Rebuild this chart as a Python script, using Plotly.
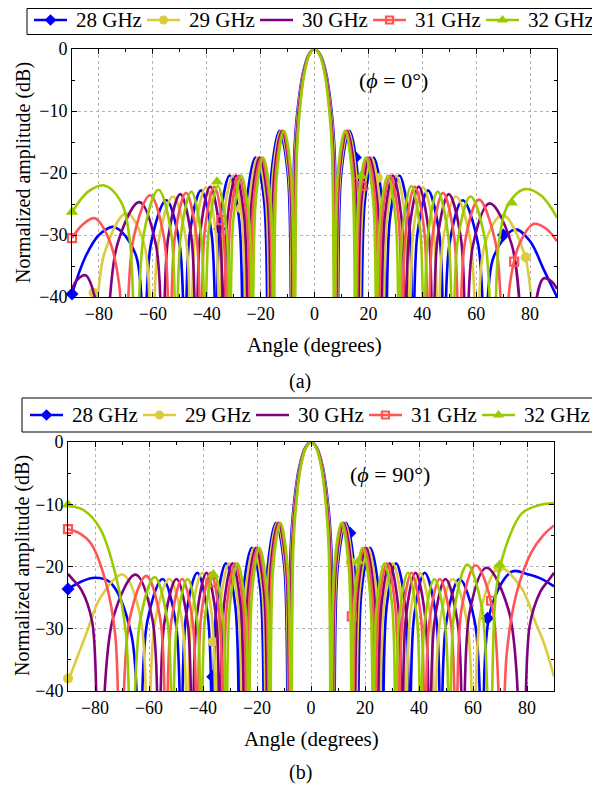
import plotly.graph_objects as go

FREQS = ["28 GHz", "29 GHz", "30 GHz", "31 GHz", "32 GHz"]

# ---------------- angles (degrees) per frequency ----------------
ANG_28 = [-90, -85, -80, -74.5, -66.5, -63.5, -60.7, -55.0, -50.1, -48.1, -46.3, -42.1, -38.2, -36.5, -35.0,
          -31.5, -28.0, -26.5, -25.1, -21.9, -18.7, -17.3, -16.0, -12.95, -9.9, -8.6, -7.5, -6.45, -4.3, -2.15,
          0,
          2.15, 4.3, 6.45, 7.5, 8.6, 9.9, 12.95, 16.0, 17.3, 18.7, 21.9, 25.1, 26.5, 28.0, 31.5, 35.0, 36.5,
          38.2, 42.1, 46.3, 48.1, 50.1, 55.0, 60.7, 63.5, 66.5, 74.5, 80, 85, 90]
ANG_29 = [-90, -86.5, -83, -78, -69.8, -63.2, -60.5, -57.8, -52.5, -47.7, -45.9, -44.2, -40.3, -36.7, -35.1,
          -33.7, -30.3, -26.9, -25.5, -24.2, -21.1, -18.0, -16.7, -15.44, -12.5, -9.56, -8.3, -7.26, -6.23,
          -4.15, -2.08,
          0,
          2.08, 4.15, 6.23, 7.26, 8.3, 9.56, 12.5, 15.44, 16.7, 18.0, 21.1, 24.2, 25.5, 26.9, 30.3, 33.7, 35.1,
          36.7, 40.3, 44.2, 45.9, 47.7, 52.5, 57.8, 60.5, 63.2, 69.8, 78, 83, 86.5, 90]
ANG_30 = [-90, -88, -85, -81, -78.5, -73.3, -65.0, -58.8, -56.4, -54.3, -49.8, -45.7, -44.0, -42.3, -38.7,
          -35.2, -33.7, -32.3, -29.1, -26.0, -24.6, -23.3, -20.35, -17.4, -16.1, -14.9, -12.05, -9.2, -8, -7,
          -6, -4, -2,
          0,
          2, 4, 6, 7, 8, 9.2, 12.05, 14.9, 16.1, 17.4, 20.35, 23.3, 24.6, 26.0, 29.1, 32.3, 33.7, 35.2, 38.7,
          42.3, 44.0, 45.7, 49.8, 54.3, 56.4, 58.8, 65.0, 73.3, 78.5, 81, 85, 88, 90]
ANG_31 = [-90, -86, -81.5, -76, -72.5, -70.5, -67.2, -61.0, -55.8, -53.8, -51.8, -47.7, -43.8, -42.2, -40.7,
          -37.2, -33.9, -32.5, -31.2, -28.1, -25.1, -23.8, -22.6, -19.7, -16.8, -15.6, -14.4, -11.65, -8.9,
          -7.7, -6.74, -5.78, -3.85, -1.93,
          0,
          1.93, 3.85, 5.78, 6.74, 7.7, 8.9, 11.65, 14.4, 15.6, 16.8, 19.7, 22.6, 23.8, 25.1, 28.1, 31.2, 32.5,
          33.9, 37.2, 40.7, 42.2, 43.8, 47.7, 51.8, 53.8, 55.8, 61.0, 67.2, 70.5, 72.5, 76, 81.5, 86, 90]
ANG_32 = [-90, -84, -78, -72, -68.5, -66.3, -63.3, -57.9, -53.2, -51.4, -49.6, -45.7, -42.1, -40.6, -39.2,
          -35.9, -32.7, -31.4, -30.1, -27.2, -24.3, -23.0, -21.8, -19.05, -16.3, -15.1, -13.96, -11.3, -8.64,
          -7.5, -6.55, -5.6, -3.75, -1.87,
          0,
          1.87, 3.75, 5.6, 6.55, 7.5, 8.64, 11.3, 13.96, 15.1, 16.3, 19.05, 21.8, 23.0, 24.3, 27.2, 30.1, 31.4,
          32.7, 35.9, 39.2, 40.6, 42.1, 45.7, 49.6, 51.4, 53.2, 57.9, 63.3, 66.3, 68.5, 72, 78, 84, 90]

# ---------------- panel (a): phi = 0 deg, normalized amplitude (dB) ----------------
A_28 = [-39.5, -33.5, -30, -28.7, -33, -55, -31.4, -24.4, -31.4, -55, -29.8, -22.8, -29.8, -55, -27.4,
        -20.4, -27.4, -55, -24.5, -17.5, -24.5, -55, -20.2, -13.2, -20.2, -55, -17, -10.5, -3.9, -0.9,
        0,
        -0.9, -3.9, -10.5, -17, -55, -20.2, -13.2, -20.2, -55, -24.5, -17.5, -24.5, -55, -27.4, -20.4,
        -27.4, -55, -29.8, -22.8, -29.8, -55, -31.4, -24.4, -31.4, -55, -33.5, -29.1, -31, -35.5, -40]
A_29 = [-47, -44, -50, -33, -26.5, -31.5, -55, -30.8, -23.8, -30.8, -55, -29.3, -22.3, -29.3, -55, -27.4,
        -20.4, -27.4, -55, -24.5, -17.5, -24.5, -55, -20.2, -13.2, -20.2, -55, -17, -10.5, -3.9, -0.9,
        0,
        -0.9, -3.9, -10.5, -17, -55, -20.2, -13.2, -20.2, -55, -24.5, -17.5, -24.5, -55, -27.4, -20.4,
        -27.4, -55, -29.3, -22.3, -29.3, -55, -30.8, -23.8, -30.8, -55, -31.5, -26.8, -33.2, -50, -44, -47]
A_30 = [-38.7, -37.2, -36.5, -41, -55, -31.7, -24.7, -31.7, -55, -30.4, -23.4, -30.4, -55, -29.2, -22.2,
        -29.2, -55, -27.4, -20.4, -27.4, -55, -24.5, -17.5, -24.5, -55, -20.2, -13.2, -20.2, -55, -17, -10.5,
        -3.9, -0.9,
        0,
        -0.9, -3.9, -10.5, -17, -55, -20.2, -13.2, -20.2, -55, -24.5, -17.5, -24.5, -55, -27.4, -20.4,
        -27.4, -55, -29.2, -22.2, -29.2, -55, -30.4, -23.4, -30.4, -55, -31.7, -24.9, -31.7, -55, -44, -37,
        -37.5, -38.7]
A_31 = [-30.5, -28.3, -27.3, -31, -38, -55, -30.6, -23.6, -30.6, -55, -30.2, -23.2, -30.2, -55, -29.2,
        -22.2, -29.2, -55, -27.4, -20.4, -27.4, -55, -24.5, -17.5, -24.5, -55, -20.2, -13.2, -20.2, -55,
        -17, -10.5, -3.9, -0.9,
        0,
        -0.9, -3.9, -10.5, -17, -55, -20.2, -13.2, -20.2, -55, -24.5, -17.5, -24.5, -55, -27.4, -20.4,
        -27.4, -55, -29.2, -22.2, -29.2, -55, -30.2, -23.2, -30.2, -55, -31.3, -24.3, -31.3, -55, -38,
        -31.5, -28.2, -29, -31]
A_32 = [-26.3, -23, -22, -24.5, -31, -55, -29.7, -22.7, -29.7, -55, -30, -23.0, -30, -55, -29.1, -22.1,
        -29.1, -55, -27.4, -20.4, -27.4, -55, -24.5, -17.5, -24.5, -55, -20.2, -13.2, -20.2, -55, -17,
        -10.5, -3.9, -0.9,
        0,
        -0.9, -3.9, -10.5, -17, -55, -20.2, -13.2, -20.2, -55, -24.5, -17.5, -24.5, -55, -27.4, -20.4,
        -27.4, -55, -29.1, -22.1, -29.1, -55, -30, -23.0, -30, -55, -30.8, -23.8, -30.8, -55, -31, -25,
        -22.6, -23.6, -27.2]

# ---------------- panel (b): phi = 90 deg ----------------
B_28 = [-23.6, -22.4, -21.8, -22.5, -31, -55, -29, -22.0, -29, -55, -28, -21.0, -28, -55, -26.5, -19.5,
        -26.5, -55, -24, -17.0, -24, -55, -20, -13.0, -20, -55, -17, -10.5, -3.9, -0.9,
        0,
        -0.9, -3.9, -10.5, -17, -55, -20, -13.0, -20, -55, -24, -17.0, -24, -55, -26.5, -19.5, -26.5,
        -55, -28, -21.0, -28, -55, -29, -22.0, -29, -55, -27, -20.8, -21.2, -21.9, -23.2]
B_29 = [-38.5, -34.5, -30.5, -25, -21.3, -28, -55, -29, -22.0, -29, -55, -28, -21.0, -28, -55, -26.5,
        -19.5, -26.5, -55, -24, -17.0, -24, -55, -20, -13.0, -20, -55, -17, -10.5, -3.9, -0.9,
        0,
        -0.9, -3.9, -10.5, -17, -55, -20, -13.0, -20, -55, -24, -17.0, -24, -55, -26.5, -19.5, -26.5,
        -55, -28, -21.0, -28, -55, -29, -22.0, -29, -55, -26.5, -20.2, -23.5, -28.8, -32.6, -37.7]
B_30 = [-21.2, -22.2, -23.8, -29, -55, -28.3, -21.3, -28.3, -55, -29, -22.0, -29, -55, -28, -21.0, -28,
        -55, -26.5, -19.5, -26.5, -55, -24, -17.0, -24, -55, -20, -13.0, -20, -55, -17, -10.5, -3.9, -0.9,
        0,
        -0.9, -3.9, -10.5, -17, -55, -20, -13.0, -20, -55, -24, -17.0, -24, -55, -26.5, -19.5, -26.5,
        -55, -28, -21.0, -28, -55, -29, -22.0, -29, -55, -27.2, -20.2, -27.2, -55, -29.5, -24, -22.2, -21]
B_31 = [-14, -14.6, -16.3, -22.5, -31, -55, -28.5, -21.5, -28.5, -55, -29, -22.0, -29, -55, -28, -21.0,
        -28, -55, -26.5, -19.5, -26.5, -55, -24, -17.0, -24, -55, -20, -13.0, -20, -55, -17, -10.5, -3.9,
        -0.9,
        0,
        -0.9, -3.9, -10.5, -17, -55, -20, -13.0, -20, -55, -24, -17.0, -24, -55, -26.5, -19.5, -26.5,
        -55, -28, -21.0, -28, -55, -29, -22.0, -29, -55, -26.7, -19.8, -26.7, -55, -34, -24.5, -17.8,
        -15, -13.4]
B_32 = [-10.2, -11, -14, -22, -31, -55, -28.7, -21.7, -28.7, -55, -29, -22.0, -29, -55, -28, -21.0, -28,
        -55, -26.5, -19.5, -26.5, -55, -24, -17.0, -24, -55, -20, -13.0, -20, -55, -17, -10.5, -3.9, -0.9,
        0,
        -0.9, -3.9, -10.5, -17, -55, -20, -13.0, -20, -55, -24, -17.0, -24, -55, -26.5, -19.5, -26.5,
        -55, -28, -21.0, -28, -55, -29, -22.0, -29, -55, -26.7, -19.7, -26.7, -55, -24, -17, -11.5, -10.2,
        -9.8]

# ---------------- marker positions (every n-th sample in the original) ----------------
MK_A_X = {"28 GHz": [-90, -35.2, 15.2, 70.1], "29 GHz": [-82, -27.3, 23.5, 78.4],
          "31 GHz": [-90, -34.6, 17.5, 74.1], "32 GHz": [-90, -36.2, 17.3, 73.2]}
MK_A_Y = {"28 GHz": [-39.5, -29.0, -17.5, -30.0], "29 GHz": [-39.3, -25.7, -20.8, -33.6],
          "31 GHz": [-30.5, -27.6, -22.1, -34.3], "32 GHz": [-26.3, -21.4, -20.5, -24.8]}
MK_B_X = {"28 GHz": [-90, -36.4, 14.4, 65.4], "29 GHz": [-90, -36.4, 14.7, 69.4],
          "31 GHz": [-90, -36.4, 15.1, 66.7], "32 GHz": [-90, -36.2, 17.5, 69.9]}
MK_B_Y = {"28 GHz": [-23.6, -37.7, -14.6, -28.3], "29 GHz": [-38.0, -32.1, -19.3, -20.2],
          "31 GHz": [-14.0, -22.5, -28.0, -25.5], "32 GHz": [-10.1, -21.3, -19.2, -19.7]}

X_TICKS = [-80, -60, -40, -20, 0, 20, 40, 60, 80]
X_TICKTEXT = ["\u221280", "\u221260", "\u221240", "\u221220", "0", "20", "40", "60", "80"]
Y_TICKS = [-40, -30, -20, -10, 0]
Y_TICKTEXT = ["\u221240", "\u221230", "\u221220", "\u221210", "0"]

ANGLES = {"28 GHz": ANG_28, "29 GHz": ANG_29, "30 GHz": ANG_30, "31 GHz": ANG_31, "32 GHz": ANG_32}
PANEL_A = {"28 GHz": A_28, "29 GHz": A_29, "30 GHz": A_30, "31 GHz": A_31, "32 GHz": A_32}
PANEL_B = {"28 GHz": B_28, "29 GHz": B_29, "30 GHz": B_30, "31 GHz": B_31, "32 GHz": B_32}

for f in FREQS:
    assert len(ANGLES[f]) == len(PANEL_A[f]) == len(PANEL_B[f]), f

# ---------------- styles ----------------
COLOR = {"28 GHz": "#0000ff", "29 GHz": "#dccb3e", "30 GHz": "#800080",
         "31 GHz": "#ff5555", "32 GHz": "#99cc00"}
SYMBOL = {"28 GHz": "diamond", "29 GHz": "circle", "30 GHz": None,
          "31 GHz": "square-open", "32 GHz": "triangle-up"}
MSIZE = {"28 GHz": 10, "29 GHz": 10, "30 GHz": 0, "31 GHz": 8, "32 GHz": 11}
FONT = "Liberation Serif"
LW = 2.6

W, H = 600, 792
OFF = 8  # page body margin in the browser


def sx(x):
    return (x - OFF) / W


def sy(y):
    return 1 - (y - OFF) / H


fig = go.Figure()


def marker_style(f, size=None):
    s = MSIZE[f] if size is None else size
    if f == "31 GHz":
        return dict(symbol=SYMBOL[f], size=s, color=COLOR[f], line=dict(width=2.2, color=COLOR[f]))
    return dict(symbol=SYMBOL[f], size=s, color=COLOR[f], line=dict(width=0))


for data, mkx, mky, xa, ya in [(PANEL_A, MK_A_X, MK_A_Y, "x", "y"),
                               (PANEL_B, MK_B_X, MK_B_Y, "x2", "y2")]:
    for f in FREQS:
        fig.add_trace(go.Scatter(x=ANGLES[f], y=data[f], mode="lines", xaxis=xa, yaxis=ya, name=f,
                                 line=dict(color=COLOR[f], width=LW, shape="spline", smoothing=1.0),
                                 showlegend=False, hoverinfo="skip"))
        if f in mkx:
            fig.add_trace(go.Scatter(x=mkx[f], y=mky[f], mode="markers", xaxis=xa, yaxis=ya, name=f,
                                     marker=marker_style(f), showlegend=False, cliponaxis=False,
                                     hoverinfo="skip"))

# ---------------- hand-placed legends (box, line samples, markers, labels) ----------------
LEG = [  # (box left, box right, box top, box bottom, row centre y, first line x)
    (27, 598, 8.5, 34.5, 20, 34),
    (22, 598, 398, 432, 415, 30),
]
STEP = 113
SEG = 33
shapes = []
annotations = []
for (bl, br, bt, bb, yc, x0) in LEG:
    shapes.append(dict(type="rect", xref="paper", yref="paper", x0=sx(bl), x1=sx(br), y0=sy(bb), y1=sy(bt),
                       line=dict(color="black", width=1), fillcolor="white", layer="below"))
    for i, f in enumerate(FREQS):
        lx = x0 + i * STEP
        shapes.append(dict(type="line", xref="paper", yref="paper", x0=sx(lx), x1=sx(lx + SEG),
                           y0=sy(yc), y1=sy(yc), line=dict(color=COLOR[f], width=LW), layer="below"))
        annotations.append(dict(text=f, x=sx(lx + SEG + 7), y=sy(yc), xref="paper", yref="paper",
                                showarrow=False, xanchor="left", yanchor="middle",
                                font=dict(family=FONT, size=21, color="black")))
        if SYMBOL[f] is not None:
            fig.add_trace(go.Scatter(x=[lx + SEG / 2 - OFF], y=[yc - OFF], mode="markers", xaxis="x3",
                                     yaxis="y3", marker=marker_style(f, MSIZE[f] - 1), name=f,
                                     showlegend=False, hoverinfo="skip", cliponaxis=False))

axis_common = dict(showline=True, linecolor="black", linewidth=1, mirror="ticks",
                   ticks="inside", ticklen=5, tickwidth=1, tickcolor="black", automargin=False,
                   showgrid=True, gridcolor="#b4b4b4", griddash="dot", gridwidth=1,
                   zeroline=False, tickfont=dict(family=FONT, size=18, color="black"))
xminor = dict(dtick=10, tick0=0, ticks="inside", ticklen=3, tickcolor="black", showgrid=False)
yminor = dict(dtick=5, tick0=0, ticks="inside", ticklen=3, tickcolor="black", showgrid=False)

fig.update_layout(
    width=W, height=H, margin=dict(l=0, r=0, t=0, b=0, autoexpand=False),
    paper_bgcolor="white", plot_bgcolor="rgba(0,0,0,0)", showlegend=False,
    xaxis=dict(domain=[sx(72), sx(557)], anchor="y", range=[-90, 90], tickvals=X_TICKS,
               ticktext=X_TICKTEXT, minor=xminor, **axis_common),
    yaxis=dict(domain=[sy(297), sy(49)], anchor="x", range=[-40, 0], tickvals=Y_TICKS,
               ticktext=Y_TICKTEXT, minor=yminor, **axis_common),
    xaxis2=dict(domain=[sx(68), sx(554)], anchor="y2", range=[-90, 90], tickvals=X_TICKS,
                ticktext=X_TICKTEXT, minor=xminor, **axis_common),
    yaxis2=dict(domain=[sy(691), sy(442)], anchor="x2", range=[-40, 0], tickvals=Y_TICKS,
                ticktext=Y_TICKTEXT, minor=yminor, **axis_common),
    xaxis3=dict(domain=[0, 1], anchor="y3", range=[0, W], visible=False, fixedrange=True),
    yaxis3=dict(domain=[0, 1], anchor="x3", range=[H, 0], visible=False, fixedrange=True),
)

ann_font = dict(family=FONT, size=21, color="black")
ylab_font = dict(family=FONT, size=20, color="black")
annotations += [
    dict(text="Angle (degrees)", x=sx(314), y=sy(345), xref="paper", yref="paper",
         showarrow=False, font=ann_font, xanchor="center", yanchor="middle"),
    dict(text="Angle (degrees)", x=sx(311), y=sy(739), xref="paper", yref="paper",
         showarrow=False, font=ann_font, xanchor="center", yanchor="middle"),
    dict(text="Normalized amplitude (dB)", x=sx(23), y=sy(173), xref="paper", yref="paper",
         showarrow=False, font=ylab_font, textangle=-90, xanchor="center", yanchor="middle"),
    dict(text="Normalized amplitude (dB)", x=sx(22), y=sy(566), xref="paper", yref="paper",
         showarrow=False, font=ylab_font, textangle=-90, xanchor="center", yanchor="middle"),
    dict(text="(a)", x=sx(300), y=sy(381), xref="paper", yref="paper",
         showarrow=False, font=dict(family=FONT, size=20, color="black"), xanchor="center", yanchor="middle"),
    dict(text="(b)", x=sx(300), y=sy(772), xref="paper", yref="paper",
         showarrow=False, font=dict(family=FONT, size=20, color="black"), xanchor="center", yanchor="middle"),
    dict(text="(<i>\u03d5</i> = 0\u00b0)", x=29.5, y=-5, xref="x", yref="y",
         showarrow=False, font=dict(family=FONT, size=22, color="black"), xanchor="center", yanchor="middle"),
    dict(text="(<i>\u03d5</i> = 90\u00b0)", x=29.3, y=-5.3, xref="x2", yref="y2",
         showarrow=False, font=dict(family=FONT, size=22, color="black"), xanchor="center", yanchor="middle"),
]
fig.update_layout(annotations=annotations, shapes=shapes)

fig.write_html("out.html")
